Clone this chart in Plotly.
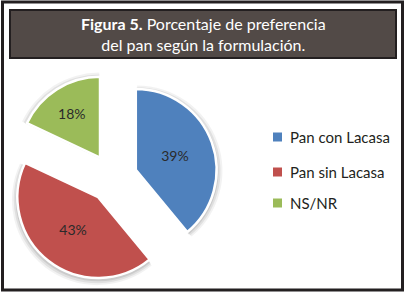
import plotly.graph_objects as go

categories = ["Pan con Lacasa", "Pan sin Lacasa", "NS/NR"]
values = [39, 43, 18]
colors = ["#4F81BD", "#C0504D", "#9BBB59"]
title_bold = "Figura 5."
title_rest = " Porcentaje de preferencia"
title_line2 = "del pan según la formulación."

W, H = 405, 293

def px_x(x):
    return x / W

def px_y(y):
    return 1 - y / H

cx, cy, half = 113, 178, 105
pull = 0.3

fig = go.Figure()

# soft shadow
for grow, alpha in [(6, 0.05), (4, 0.07), (2, 0.09)]:
    fig.add_trace(go.Pie(
        labels=categories, values=values, sort=False, direction="clockwise",
        rotation=0, pull=[pull] * 3, textinfo="none", hoverinfo="skip",
        showlegend=False,
        marker=dict(colors=[f"rgba(0,0,0,{alpha})"] * 3, line=dict(width=0)),
        domain=dict(x=[px_x(cx - half - grow), px_x(cx + half + grow)],
                    y=[px_y(cy + half + grow + 1.5), px_y(cy - half - grow + 1.5)]),
    ))

fig.add_trace(go.Pie(
    labels=categories, values=values, sort=False, direction="clockwise",
    rotation=0, pull=[pull] * 3,
    texttemplate="%{value}%", textposition="inside",
    insidetextorientation="horizontal",
    textfont=dict(family="Lato, sans-serif", size=14, color="#2a2a2a"),
    marker=dict(colors=colors, line=dict(color="white", width=2.5)),
    domain=dict(x=[px_x(cx - half), px_x(cx + half)],
                y=[px_y(cy + half), px_y(cy - half)]),
    showlegend=False,
))

shapes = [
    # outer frame
    dict(type="rect", xref="paper", yref="paper",
         x0=px_x(2.5), x1=px_x(402.5), y0=px_y(290), y1=px_y(2),
         line=dict(color="#231f20", width=3), fillcolor="rgba(0,0,0,0)", layer="above"),
    # title box
    dict(type="rect", xref="paper", yref="paper",
         x0=px_x(10), x1=px_x(396), y0=px_y(58), y1=px_y(10),
         line=dict(color="#231f20", width=2), fillcolor="#524a47", layer="below"),
]

annotations = [
    dict(xref="paper", yref="paper", x=px_x(203), y=px_y(34), xanchor="center", yanchor="middle",
         text=f"<b>{title_bold}</b>{title_rest}<br>{title_line2}", showarrow=False,
         font=dict(family="Lato, sans-serif", size=16, color="white"), align="center"),
]

legend_y = [137, 172, 203]
for name, col, ly in zip(categories, colors, legend_y):
    shapes.append(dict(type="rect", xref="paper", yref="paper",
                       x0=px_x(273), x1=px_x(282), y0=px_y(ly + 4.5), y1=px_y(ly - 4.5),
                       line=dict(width=0), fillcolor=col))
    annotations.append(dict(xref="paper", yref="paper", x=px_x(288), y=px_y(ly),
                            xanchor="left", yanchor="middle", text=name, showarrow=False,
                            font=dict(family="Lato, sans-serif", size=15, color="#231f20")))

fig.update_layout(
    width=W, height=H, margin=dict(l=0, r=0, t=0, b=0),
    paper_bgcolor="white", plot_bgcolor="white",
    shapes=shapes, annotations=annotations, showlegend=False,
)

fig.write_html("out.html", config={"displayModeBar": False},
               post_script="document.body.style.margin='0';")
